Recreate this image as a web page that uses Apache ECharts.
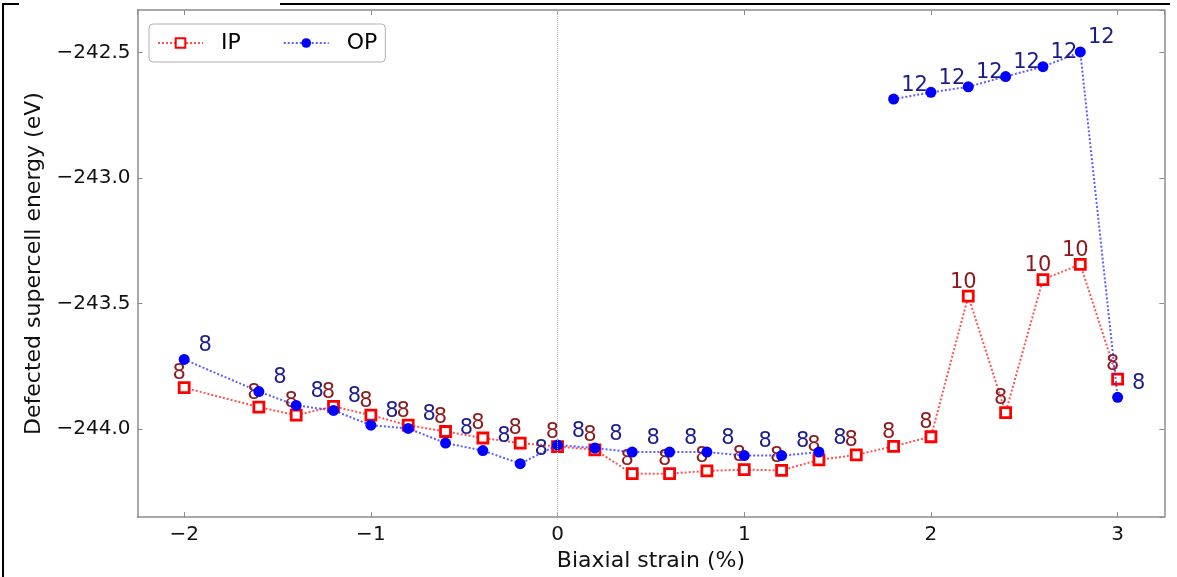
<!DOCTYPE html>
<html>
<head>
<meta charset="utf-8">
<script src="https://cdn.jsdelivr.net/npm/echarts@6/dist/echarts.min.js"></script>
<style>
html,body{margin:0;padding:0;background:#fff;}
#chart{width:1177px;height:577px;}
</style>
</head>
<body>
<div id="chart"></div>
<script>
// ---- data ----
const strain = [-2.0, -1.6, -1.4, -1.2, -1.0, -0.8, -0.6, -0.4, -0.2, 0.0, 0.2, 0.4, 0.6, 0.8, 1.0, 1.2, 1.4, 1.6, 1.8, 2.0, 2.2, 2.4, 2.6, 2.8, 3.0];
const ipEnergy = [-243.834, -243.912, -243.944, -243.909, -243.944, -243.984, -244.009, -244.035, -244.055, -244.069, -244.082, -244.177, -244.177, -244.166, -244.161, -244.164, -244.122, -244.102, -244.068, -244.030, -243.470, -243.934, -243.404, -243.343, -243.800];
const opEnergy = [-243.722, -243.850, -243.905, -243.925, -243.984, -243.997, -244.055, -244.085, -244.137, -244.063, -244.075, -244.091, -244.091, -244.091, -244.105, -244.105, -244.091, null, -242.685, -242.658, -242.636, -242.595, -242.556, -242.497, -243.873];
const ipLabels = ['8','8','8','8','8','8','8','8','8','8','8','8','8','8','8','8','8','8','8','8','10','8','10','10','8'];
const opLabels = ['8','8','8','8','8','8','8','8','8','8','8','8','8','8','8','8','8','','12','12','12','12','12','12','8'];
const xTicks = [-2, -1, 0, 1, 2, 3];
const yTicks = [-244.0, -243.5, -243.0, -242.5];

const FONT = 'DejaVu Sans';
const ipData = strain.map((x, i) => [x, ipEnergy[i]]);
const opData = strain.map((x, i) => [x, opEnergy[i] === null ? '-' : opEnergy[i]]);

function fmtX(v) {
  for (const t of xTicks) if (Math.abs(v - t) < 1e-6) return (t < 0 ? '\u2212' : '') + Math.abs(t);
  return '';
}
function fmtY(v) {
  for (const t of yTicks) if (Math.abs(v - t) < 1e-6) return '\u2212' + Math.abs(t).toFixed(1);
  return '';
}

const axisLineStyle = { color: '#8c8c8c', width: 1.5 };
const tickStyle = { show: true, inside: true, length: 5, lineStyle: { color: '#8c8c8c', width: 1 } };

const chart = echarts.init(document.getElementById('chart'), null, { renderer: 'canvas' });
chart.setOption({
  animation: false,
  backgroundColor: '#fff',
  grid: { left: 137.5, right: 12.7, top: 10, bottom: 53.7, containLabel: false },
  legend: {
    data: ['IP', 'OP'],
    left: 149, top: 24,
    orient: 'horizontal',
    itemWidth: 45, itemHeight: 12, itemGap: 42,
    padding: [8, 8, 8, 8],
    borderColor: '#b0b0b0', borderWidth: 1, borderRadius: 4,
    backgroundColor: '#fff',
    textStyle: { fontSize: 22, fontFamily: FONT, color: '#000', padding: [0, 0, 0, 13] }
  },
  xAxis: [
    {
      type: 'value', min: -2.25, max: 3.25, minInterval: 1, maxInterval: 1,
      position: 'bottom',
      axisLine: { show: true, onZero: false, lineStyle: axisLineStyle },
      axisTick: tickStyle,
      splitLine: { show: false },
      axisLabel: { formatter: fmtX, fontSize: 20, fontFamily: FONT, color: '#111', margin: 8, showMinLabel: false, showMaxLabel: false },
      name: 'Biaxial strain (%)', nameLocation: 'middle', nameGap: 29,
      nameTextStyle: { fontSize: 22, fontFamily: FONT, color: '#111' }
    },
    {
      type: 'value', min: -2.25, max: 3.25, minInterval: 1, maxInterval: 1,
      position: 'top',
      axisLine: { show: true, onZero: false, lineStyle: axisLineStyle },
      axisTick: tickStyle,
      splitLine: { show: false },
      axisLabel: { show: false }
    }
  ],
  yAxis: [
    {
      type: 'value', min: -244.35, max: -242.33, minInterval: 0.5, maxInterval: 0.5,
      position: 'left',
      axisLine: { show: true, onZero: false, lineStyle: axisLineStyle },
      axisTick: tickStyle,
      splitLine: { show: false },
      axisLabel: { formatter: fmtY, fontSize: 20, fontFamily: FONT, color: '#111', margin: 7, showMinLabel: false, showMaxLabel: false },
      name: 'Defected supercell energy (eV)', nameLocation: 'middle', nameGap: 87,
      nameTextStyle: { fontSize: 22, fontFamily: FONT, color: '#111' }
    },
    {
      type: 'value', min: -244.35, max: -242.33, minInterval: 0.5, maxInterval: 0.5,
      position: 'right',
      axisLine: { show: true, onZero: false, lineStyle: axisLineStyle },
      axisTick: tickStyle,
      splitLine: { show: false },
      axisLabel: { show: false }
    }
  ],
  series: [
    {
      name: 'IP', type: 'line', data: ipData, xAxisIndex: 0, yAxisIndex: 0,
      symbol: 'rect', symbolSize: 10,
      itemStyle: { color: '#ffffff', borderColor: '#ff0000', borderWidth: 2.8 },
      lineStyle: { color: 'rgba(255,40,40,0.8)', type: 'dotted', width: 2 },
      label: {
        show: true, position: 'inside', offset: [-5, -14],
        formatter: p => ipLabels[p.dataIndex],
        color: '#8b1a1a', fontSize: 21, fontFamily: FONT
      },
      markLine: {
        silent: true, symbol: 'none', label: { show: false },
        lineStyle: { color: '#b8b8b8', type: 'dotted', width: 1 },
        data: [{ xAxis: 0 }]
      },
      z: 2
    },
    {
      name: 'OP', type: 'line', data: opData, xAxisIndex: 0, yAxisIndex: 0,
      connectNulls: false,
      symbol: 'circle', symbolSize: 11,
      itemStyle: { color: '#0000ff' },
      lineStyle: { color: 'rgba(40,40,255,0.75)', type: 'dotted', width: 2 },
      label: {
        show: true, position: 'inside', offset: [21, -14],
        formatter: p => opLabels[p.dataIndex],
        color: '#1c1c8c', fontSize: 21, fontFamily: FONT
      },
      z: 3
    }
  ],
  graphic: [
    { type: 'line', shape: { x1: 3, y1: 3, x2: 3, y2: 577 }, style: { stroke: '#000', lineWidth: 2 }, silent: true },
    { type: 'line', shape: { x1: 3, y1: 4, x2: 19, y2: 4 }, style: { stroke: '#000', lineWidth: 2 }, silent: true },
    { type: 'line', shape: { x1: 280, y1: 4, x2: 1170, y2: 4 }, style: { stroke: '#000', lineWidth: 2 }, silent: true }
  ]
});
</script>
</body>
</html>
